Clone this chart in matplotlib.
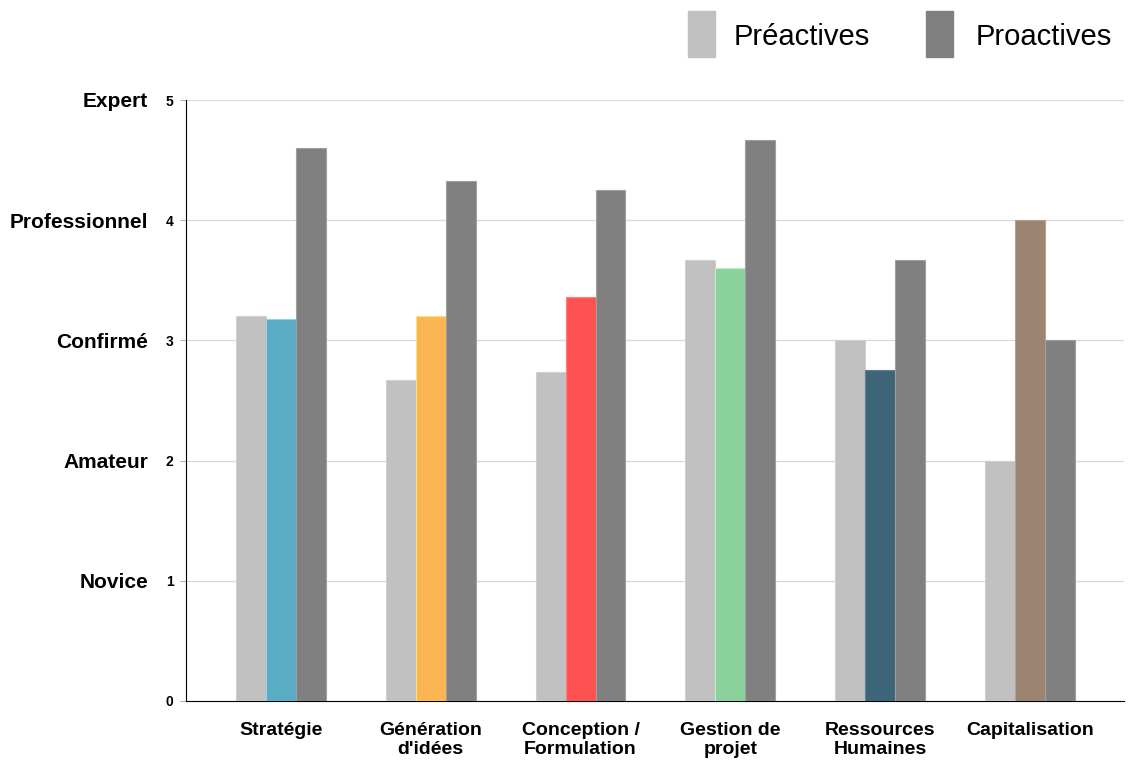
import matplotlib.pyplot as plt
import numpy as np

plt.rcParams['font.family'] = ['Liberation Sans', 'DejaVu Sans']

categories = ["Stratégie", "Génération\nd'idées", "Conception /\nFormulation",
              "Gestion de\nprojet", "Ressources\nHumaines", "Capitalisation"]
preactives = [3.2, 2.67, 2.74, 3.67, 3.0, 2.0]
individuel = [3.18, 3.2, 3.36, 3.6, 2.75, 4.0]
proactives = [4.6, 4.33, 4.25, 4.67, 3.67, 3.0]
indiv_colors = ["#5aabc4", "#fbb553", "#fe5252", "#8bd19c", "#3d6477", "#9b8470"]
indiv_edges = ["#8fd3e8", "#ffe07a", "#ff8080", "#c0f0c8", "#5a8296", "#b8a090"]
level_ticks = [0, 1, 2, 3, 4, 5]
level_names = ["", "Novice", "Amateur", "Confirmé", "Professionnel", "Expert"]

fig = plt.figure(figsize=(11.29, 7.6), dpi=100)
ax = fig.add_axes([186/1129, 1-701/760, (1124-186)/1129, (701-100)/760])

x = np.arange(len(categories))
w = 0.2
ax.bar(x - w, preactives, w, color="#c0c0c0", edgecolor="#d0d0d0", linewidth=0.8, zorder=3)
ax.bar(x, individuel, w, color=indiv_colors, edgecolor=indiv_edges, linewidth=0.8, zorder=3)
ax.bar(x + w, proactives, w, color="#808080", edgecolor="#a0a0a0", linewidth=0.8, zorder=3)

ax.set_xlim(-0.633, 5.627)
ax.set_ylim(0, 5)
ax.set_yticks(level_ticks)
ax.set_yticklabels([str(t) for t in level_ticks], fontsize=10, fontweight='bold')
ax.tick_params(axis='y', length=4, color='#b0b0b0', pad=5)
ax.grid(axis='y', color='#d8d8d8', linewidth=0.9, zorder=0)
ax.set_xticks(x)
ax.set_xticklabels(categories, fontsize=14, fontweight='bold', linespacing=1.2)
ax.tick_params(axis='x', length=0, pad=15)

ax.spines['top'].set_visible(False)
ax.spines['right'].set_visible(False)
ax.spines['left'].set_color('black')
ax.spines['bottom'].set_color('black')

for t, name in zip(level_ticks, level_names):
    if name:
        ax.text(-38/938, t - 0.015, name, transform=ax.get_yaxis_transform(), ha='right', va='center',
                fontsize=15, fontweight='bold')

# legend
from matplotlib.patches import Rectangle
fig.patches.append(Rectangle((688/1129, 1-57/760), 27/1129, 46/760, transform=fig.transFigure,
                             color="#c0c0c0"))
fig.patches.append(Rectangle((926/1129, 1-57/760), 27/1129, 46/760, transform=fig.transFigure,
                             color="#808080"))
fig.text(734/1129, 1-37/760, "Préactives", fontsize=21, va='center', ha='left')
fig.text(976/1129, 1-37/760, "Proactives", fontsize=21, va='center', ha='left')

fig.savefig("out.png", dpi=100)
